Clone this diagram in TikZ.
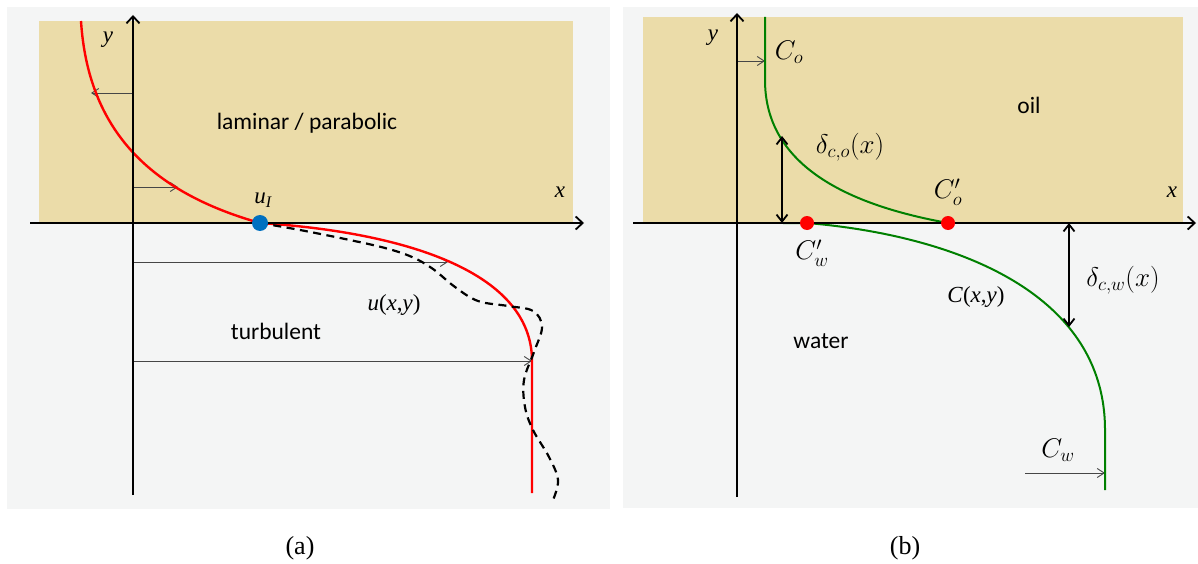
\RequirePackage{fix-cm}
\documentclass[tikz,border=0pt]{standalone}
\usepackage{fontspec}
\setmainfont{Liberation Serif}
\newfontfamily\calfont{Carlito}
\usetikzlibrary{arrows.meta}
\definecolor{tanfill}{RGB}{235,220,169}
\definecolor{panelgray}{RGB}{244,245,245}
\definecolor{dotblue}{RGB}{0,112,192}
\definecolor{curvegreen}{RGB}{0,128,0}
\definecolor{thingray}{RGB}{70,70,70}
\tikzset{
  axisline/.style={line width=1.8pt, -{Straight Barb[length=7pt,width=13pt,line width=1.8pt]}},
  thinarrow/.style={draw=thingray, line width=0.9pt, -{Straight Barb[length=7pt,width=9pt]}},
  dblarrow/.style={line width=1.8pt, {Straight Barb[length=7pt,width=11pt]}-{Straight Barb[length=7pt,width=11pt]}},
  mathlbl/.style={inner sep=0pt, font=\fontsize{27}{31}\selectfont},
  serlbl/.style={inner sep=0pt, font=\fontsize{23}{27}\selectfont\itshape},
  sanslbl/.style={inner sep=0pt, font=\calfont\fontsize{23.5}{27}\selectfont},
  caplbl/.style={inner sep=0pt, font=\fontsize{26}{30}\selectfont},
  dot/.style={circle, inner sep=0pt, minimum size=#1},
}
\begin{document}
\begin{tikzpicture}[x=1pt,y=-1pt]
\useasboundingbox (0,0) rectangle (1198,564);
\fill[white] (0,0) rectangle (1198,564);
% panels
\fill[panelgray] (7,7) rectangle (610,509);
\fill[panelgray] (623,7) rectangle (1198,508);
\fill[tanfill] (39,21) rectangle (573,223);
\fill[tanfill] (643,17) rectangle (1183,223);

% ---------------- panel (a) ----------------
\coordinate (ay0) at (133,495);
\coordinate (ay1) at (133,15);
\coordinate (ax0) at (30,223);
\coordinate (ax1) at (584,223);
\coordinate (aA1) at (133,93);   \coordinate (aB1) at (91,93);
\coordinate (aA2) at (133,187);  \coordinate (aB2) at (178,187);
\coordinate (aA3) at (133,262);  \coordinate (aB3) at (448,262);
\coordinate (aA4) at (133,361);  \coordinate (aB4) at (532,361);
\draw[thinarrow] (aA1) -- (aB1);
\draw[thinarrow] (aA2) -- (aB2);
\draw[thinarrow] (aA3) -- (aB3);
\draw[thinarrow] (aA4) -- (aB4);

\coordinate (uI) at (260,223);
\draw[red, line width=2.4pt] (81,21) .. controls (88,130) and (150,192) .. (uI);
\draw[red, line width=2.4pt] (uI) .. controls (400,232) and (532,270) .. (532,361) -- (532,493);
\draw[black, line width=2.2pt, dash pattern=on 8pt off 5.5pt]
  plot[smooth, tension=0.6] coordinates {(260,223) (300,230) (345,239) (385,248) (412,257) (433,269) (455,287) (478,301) (508,306) (533,311) (542,327) (534,352) (524,380) (525,407) (533,430) (549,457) (558,480) (553,500)};

\draw[axisline] (ay0) -- (ay1);
\draw[axisline] (ax0) -- (ax1);
\node[dot=16pt, fill=dotblue] (uIdot) at (uI) {};

\node[serlbl] (ya) at (108,40) {y};
\node[serlbl] (xa) at (560,192) {x};
\node[serlbl] (uIlbl) at (263,200) {u\textsubscript{\itshape I}};
\node[sanslbl] (lam) at (307,123) {laminar / parabolic};
\node[sanslbl] (turb) at (276,331) {turbulent};
\node[inner sep=0pt, font=\fontsize{23}{27}\selectfont] (uxy) at (394,305) {\textit{u}(\textit{x},\textit{y})};
\node[caplbl] (capa) at (300,548) {(a)};

% ---------------- panel (b) ----------------
\coordinate (by0) at (737,497);
\coordinate (by1) at (737,13);
\coordinate (bx0) at (633,223);
\coordinate (bx1) at (1196,223);
\coordinate (bCoA) at (737,61);  \coordinate (bCoB) at (765,61);
\coordinate (bCwA) at (1025,473); \coordinate (bCwB) at (1105,473);
\draw[thinarrow] (bCoA) -- (bCoB);
\draw[thinarrow] (bCwA) -- (bCwB);

\coordinate (Cop) at (948,223);
\coordinate (Cwp) at (807,223);
\draw[curvegreen, line width=2pt] (765,17) -- (765,80) .. controls (765,150) and (820,200) .. (Cop);
\draw[curvegreen, line width=2pt] (783,223) -- (Cwp) .. controls (950,235) and (1105,290) .. (1105,430) -- (1105,490);

\coordinate (dcoT) at (782,136);
\coordinate (dcoB) at (782,223);
\coordinate (dcwT) at (1069,223);
\coordinate (dcwB) at (1069,327);
\draw[dblarrow] (dcoT) -- (dcoB);
\draw[dblarrow] (dcwT) -- (dcwB);

\draw[axisline] (by0) -- (by1);
\draw[axisline] (bx0) -- (bx1);
\node[dot=14pt, fill=red] (Copdot) at (Cop) {};
\node[dot=14pt, fill=red] (Cwpdot) at (Cwp) {};

\node[serlbl] (yb) at (713,38) {y};
\node[serlbl] (xb) at (1172,192) {x};
\node[mathlbl] (Colbl) at (789,52) {$C_o$};
\node[mathlbl] (dcolbl) at (850,147) {$\delta_{c,o}(x)$};
\node[sanslbl] (oil) at (1029,105) {oil};
\node[mathlbl] (Coplbl) at (948,192) {$C'_o$};
\node[mathlbl] (Cwplbl) at (812,253) {$C'_w$};
\node[sanslbl] (water) at (821,341) {water};
\node[mathlbl] (dcwlbl) at (1123,280) {$\delta_{c,w}(x)$};
\node[inner sep=0pt, font=\fontsize{23}{27}\selectfont] (Cxy) at (976,297) {\textit{C}(\textit{x},\textit{y})};
\node[mathlbl] (Cwlbl) at (1058,450) {$C_w$};
\node[caplbl] (capb) at (905,548) {(b)};
\end{tikzpicture}
\end{document}
